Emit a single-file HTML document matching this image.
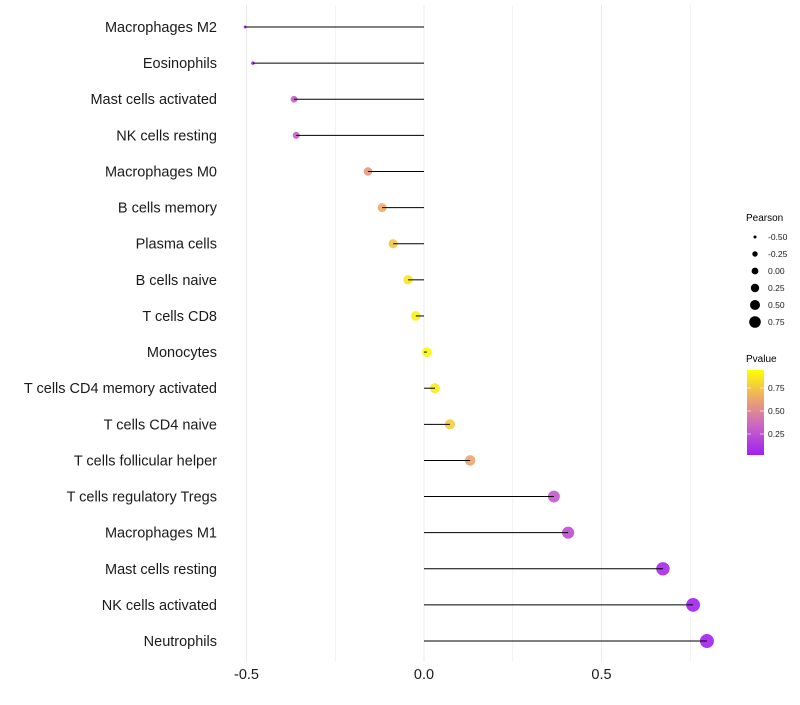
<!DOCTYPE html>
<html><head><meta charset="utf-8"><style>
body{margin:0;background:#fff;font-family:"Liberation Sans",sans-serif}
</style></head><body>
<svg id="chart" width="800" height="700" xmlns="http://www.w3.org/2000/svg">
<defs><linearGradient id="pg" x1="0" y1="1" x2="0" y2="0">
<stop offset="0" stop-color="#A020F0"/><stop offset="0.35" stop-color="#CC66C4"/><stop offset="0.65" stop-color="#EBA46E"/><stop offset="1" stop-color="#FFFF00"/></linearGradient></defs>
<g id="grid"></g>
<g id="marks"></g>
<g id="ylabels"></g>
<g id="xlabels"></g>
<g>
<text x="746" y="221" font-size="10">Pearson</text>
<g id="sizeleg"></g>
</g>
<g>
<text x="746" y="362" font-size="10">Pvalue</text>
<rect x="747" y="370" width="17" height="85" fill="url(#pg)"/>
<g id="colleg"></g>
</g>
</svg>
<script>
const categories=["Macrophages M2","Eosinophils","Mast cells activated","NK cells resting","Macrophages M0","B cells memory","Plasma cells","B cells naive","T cells CD8","Monocytes","T cells CD4 memory activated","T cells CD4 naive","T cells follicular helper","T cells regulatory  Tregs","Macrophages M1","Mast cells resting","NK cells activated","Neutrophils"];
const pearson=[-0.504,-0.482,-0.366,-0.36,-0.158,-0.118,-0.087,-0.045,-0.023,0.008,0.031,0.073,0.13,0.366,0.406,0.673,0.758,0.797];
const pvalue=[0.02,0.03,0.3,0.3,0.6,0.68,0.78,0.9,0.94,0.97,0.92,0.8,0.65,0.28,0.22,0.05,0.01,0.01];
const xTicks=[-0.5,0,0.5];
const xTickLabels=["-0.5","0.0","0.5"];
const sizeLegend=[-0.5,-0.25,0,0.25,0.5,0.75];
const sizeLegendLabels=["-0.50","-0.25","0.00","0.25","0.50","0.75"];
const colLegend=[0.25,0.5,0.75];
const colLegendLabels=["0.25","0.50","0.75"];
const NS="http://www.w3.org/2000/svg";
const xS=v=>424+v*355;
const yS=i=>27+i*36.12;
const dS=v=>v>=-0.36?Math.sqrt(49+127*(v+0.36)):Math.max(2.5,3+(v+0.5)/0.14*4);
const pS=p=>457-p*92;
function lerp(a,b,t){return a+(b-a)*t}
function color(p){const st=[[0,[160,32,240]],[0.35,[204,102,196]],[0.65,[235,164,110]],[1,[255,255,0]]];
for(let k=0;k<st.length-1;k++){if(p<=st[k+1][0]){const t=(p-st[k][0])/(st[k+1][0]-st[k][0]);const c=st[k][1].map((v,j)=>Math.round(lerp(v,st[k+1][1][j],t)));return `rgb(${c})`;}}return "rgb(255,255,0)";}
function mk(tag,attrs,parent){const e=document.createElementNS(NS,tag);for(const k in attrs)e.setAttribute(k,attrs[k]);parent.appendChild(e);return e;}
const grid=document.getElementById('grid'),marks=document.getElementById('marks'),yl=document.getElementById('ylabels'),xl=document.getElementById('xlabels');
[-0.5,-0.25,0,0.25,0.5,0.75].forEach(v=>{const l=mk('line',{x1:xS(v),x2:xS(v),y1:5,y2:662,stroke:'#ebebeb','stroke-width':v*4%2==0?1:0.6},grid);

});
categories.forEach((c,i)=>{const y=yS(i);
const d=mk('circle',{cx:xS(pearson[i]),cy:y,r:dS(pearson[i])/2,fill:color(pvalue[i]),'fill-opacity':0.9},marks);


const l=mk('line',{x1:xS(0),x2:xS(pearson[i]),y1:y,y2:y,stroke:'#000','stroke-width':1},marks);


const t=mk('text',{x:217,y:y+5,'text-anchor':'end','font-size':14.5,fill:'#1a1a1a'},yl);t.textContent=c;

});
xTicks.forEach((v,i)=>{const t=mk('text',{x:xS(v),y:679,'text-anchor':'middle','font-size':14.5,fill:'#1a1a1a'},xl);t.textContent=xTickLabels[i];

});
const sl=document.getElementById('sizeleg');
const legR=[1.5,2.7,3.4,4.2,5,5.8];
sizeLegend.forEach((v,i)=>{const y=237+i*17;const c=mk('circle',{cx:755,cy:y,r:legR[i],fill:'#000'},sl);


const t=mk('text',{x:768,y:y+3,'font-size':8.5,fill:'#1a1a1a'},sl);t.textContent=sizeLegendLabels[i];

});
const cl=document.getElementById('colleg');
colLegend.forEach((v,i)=>{const y=pS(v);mk('line',{x1:747,x2:751,y1:y,y2:y,stroke:'#fff','stroke-opacity':0.6},cl);mk('line',{x1:760,x2:764,y1:y,y2:y,stroke:'#fff','stroke-opacity':0.6},cl);
const t=mk('text',{x:768,y:y+3,'font-size':8.5,fill:'#1a1a1a'},cl);t.textContent=colLegendLabels[i];

});
</script>
</body></html>
